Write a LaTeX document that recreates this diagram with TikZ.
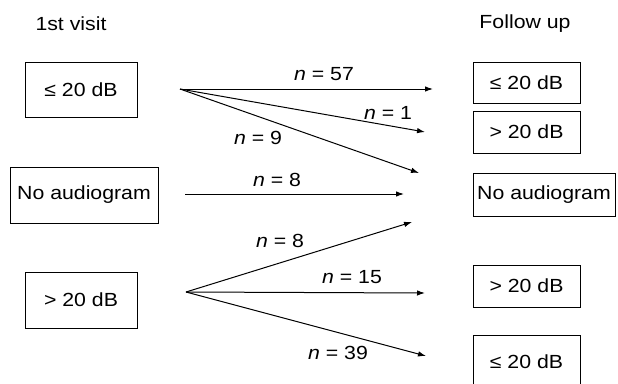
\documentclass[tikz,border=0pt]{standalone}
\usepackage{fontspec}
\setmainfont{Liberation Sans}[FakeStretch=1.12]
\usetikzlibrary{arrows.meta}
\begin{document}
\begin{tikzpicture}[x=1pt,y=-1pt,
  every node/.style={font=\fontsize{19}{21}\selectfont, inner sep=0pt},
  boxn/.style={draw, line width=0.9pt},
  arr/.style={line width=1pt, -{Latex[length=8pt,width=5.5pt]}}]
\useasboundingbox (0,0) rectangle (618,383);
% titles
\node (t1) at (71,24) {1st visit};
\node (t2) at (525,24) {Follow up};
% left boxes
\node[boxn, minimum width=112pt, minimum height=55pt] (L1) at (81,89.5) {≤ 20 dB};
\node[boxn, minimum width=148pt, minimum height=56pt] (L2) at (84,195) {No audiogram};
\node[boxn, minimum width=112pt, minimum height=56pt] (L3) at (81,300) {> 20 dB};
% right boxes
\node[boxn, minimum width=107pt, minimum height=41pt] (R1) at (526.5,82.5) {≤ 20 dB};
\node[boxn, minimum width=107pt, minimum height=42pt] (R2) at (526.5,132) {> 20 dB};
\node[boxn, minimum width=142pt, minimum height=43pt] (R3) at (544,194.5) {No audiogram};
\node[boxn, minimum width=107pt, minimum height=42pt] (R4) at (526.5,286) {> 20 dB};
\draw[line width=0.9pt] (473,390) -- (473,335) -- (580,335) -- (580,390);
\node (R5) at (526.5,362) {≤ 20 dB};
% origin points
\coordinate (o1) at (180,89);
\coordinate (o2) at (185,194);
\coordinate (o3) at (186,292);
\coordinate (e1) at (433,89);
\coordinate (e2) at (425,132);
\coordinate (e3) at (419,173);
\coordinate (e4) at (404,194);
\coordinate (e5) at (412,222);
\coordinate (e6) at (425,293);
\coordinate (e7) at (426,356);
\draw[arr] (o1) -- (e1);
\draw[arr] (o1) -- (e2);
\draw[arr] (o1) -- (e3);
\draw[arr] (o2) -- (e4);
\draw[arr] (o3) -- (e5);
\draw[arr] (o3) -- (e6);
\draw[arr] (o3) -- (e7);
% labels
\node (n1) at (324,74) {\textit{n} = 57};
\node (n2) at (388,113) {\textit{n} = 1};
\node (n3) at (258,138) {\textit{n} = 9};
\node (n4) at (277,180) {\textit{n} = 8};
\node (n5) at (280,241) {\textit{n} = 8};
\node (n6) at (352,277) {\textit{n} = 15};
\node (n7) at (338,353) {\textit{n} = 39};
\end{tikzpicture}
\end{document}
